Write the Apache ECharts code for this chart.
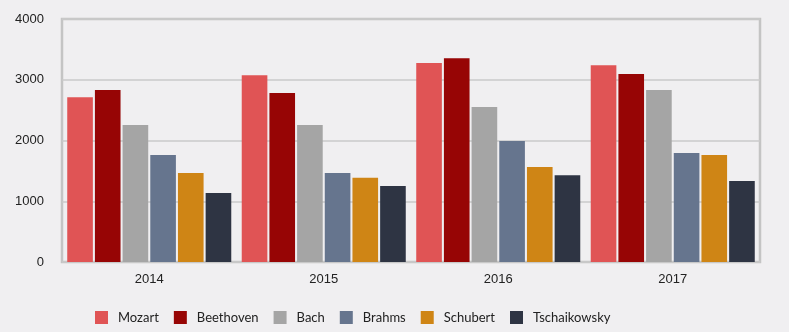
<!DOCTYPE html>
<html><head><meta charset="utf-8">
<script src="https://cdn.jsdelivr.net/npm/echarts@6/dist/echarts.min.js"></script>
<style>html,body{margin:0;padding:0;background:#f0eff1;}#c{width:789px;height:332px;}</style>
</head><body><div id="c"></div>
<script>
const years = ['2014','2015','2016','2017'];
const mozart = [2710, 3075, 3275, 3240];
const beethoven = [2830, 2780, 3355, 3095];
const bach = [2255, 2255, 2550, 2830];
const brahms = [1760, 1465, 1990, 1795];
const schubert = [1465, 1385, 1565, 1760];
const tschaikowsky = [1135, 1250, 1430, 1335];
const names = ['Mozart','Beethoven','Bach','Brahms','Schubert','Tschaikowsky'];
const colors = ['#e05455','#970505','#a5a5a5','#66758e','#cf8515','#2e3443'];
const values = [mozart, beethoven, bach, brahms, schubert, tschaikowsky];
const yTicks = [0, 1000, 2000, 3000, 4000];

const axisFont = "'Liberation Sans', Arial, Helvetica, sans-serif";
const chart = echarts.init(document.getElementById('c'), null, {renderer:'canvas'});
chart.setOption({
  backgroundColor: '#f0eff1',
  animation: false,
  color: colors,
  grid: {left: 62, top: 19, width: 698, height: 243, show: true, borderColor: '#c4c4c4', borderWidth: 2.5, backgroundColor: 'transparent', containLabel: false},
  legend: {
    left: 90, top: 306, itemWidth: 13, itemHeight: 13, itemGap: 15, icon: 'rect',
    textStyle: {fontFamily: 'Lato', fontSize: 13, color: '#222', padding: [0, 0, 0, 5]},
    data: names
  },
  xAxis: {
    type: 'category', data: years,
    axisLine: {show: false}, axisTick: {show: false},
    axisLabel: {margin: 11, fontFamily: axisFont, fontSize: 13, color: '#222'}
  },
  yAxis: {
    type: 'value', min: yTicks[0], max: yTicks[yTicks.length-1], interval: 1000,
    axisLine: {show: false}, axisTick: {show: false},
    splitLine: {lineStyle: {color: '#cacaca', width: 1.5}},
    axisLabel: {margin: 18, fontFamily: axisFont, fontSize: 13, color: '#222', formatter: v => String(v)}
  },
  series: names.map((n, i) => ({
    name: n, type: 'bar', data: values[i],
    barCategoryGap: '6%', barGap: '8%',
    itemStyle: {color: colors[i]}
  }))
});
</script></body></html>
